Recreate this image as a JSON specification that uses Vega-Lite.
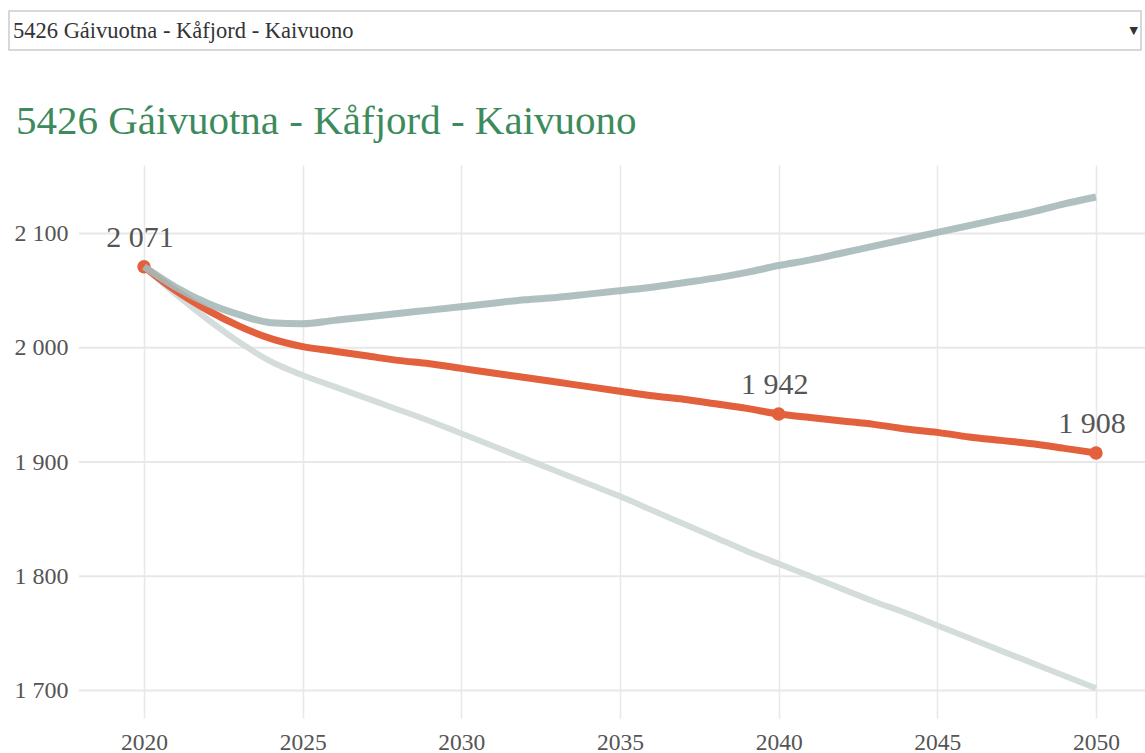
{
  "$schema": "https://vega.github.io/schema/vega-lite/v6.json",
  "background": "white",
  "padding": {"left": 8, "top": 10, "right": 0, "bottom": 0},
  "config": {
    "locale": {"number": {"decimal": ",", "thousands": " ", "grouping": [3], "currency": ["", ""]}},
    "font": "Liberation Serif",
    "view": {"stroke": null}
  },
  "spacing": 50,
  "vconcat": [
    {
      "width": 1132,
      "height": 39,
      "view": {"stroke": "#cccccc", "strokeWidth": 1.5, "fill": "white"},
      "data": {"values": [
        {"part": "label", "text": "5426 Gáivuotna - Kåfjord - Kaivuono"},
        {"part": "arrow", "text": "▼"}
      ]},
      "encoding": {
        "x": {"field": "part", "type": "nominal", "scale": {"type": "point", "domain": ["label", "arrow"], "padding": 0}, "axis": null},
        "text": {"field": "text"}
      },
      "layer": [
        {"transform": [{"filter": "datum.part === 'label'"}],
         "mark": {"type": "text", "align": "left", "dx": 4, "fontSize": 22.5, "color": "#333333", "font": "Liberation Serif"}},
        {"transform": [{"filter": "datum.part === 'arrow'"}],
         "mark": {"type": "text", "align": "right", "dx": -3, "fontSize": 11, "color": "#333333", "font": "DejaVu Sans"}}
      ]
    },
    {
      "width": 1137,
      "height": 553,
      "title": {"text": "5426 Gáivuotna - Kåfjord - Kaivuono", "anchor": "start", "frame": "group", "dx": 7, "offset": 22, "fontSize": 41, "font": "Liberation Serif", "fontWeight": "normal", "color": "#3d8b5c"},
      "layer": [
        {
          "data": {"values": [{"tick": 1700}, {"tick": 1800}, {"tick": 1900}, {"tick": 2000}, {"tick": 2100}]},
          "mark": {"type": "rule", "color": "#e8e8e8", "strokeWidth": 2},
          "encoding": {
            "x": {"datum": 2017.95, "type": "quantitative",
                  "scale": {"domain": [2015.746, 2051.576], "nice": false, "zero": false},
                  "axis": {"values": [2020, 2025, 2030, 2035, 2040, 2045, 2050], "format": "d", "title": null,
                           "labelFontSize": 23.5, "labelFont": "Liberation Serif", "labelColor": "#555555",
                           "ticks": false, "tickSize": 0, "domain": false, "labelPadding": 12, "labelFlush": false,
                           "grid": true, "gridColor": "#e8e8e8", "gridWidth": 1.5}},
            "x2": {"datum": 2051.576},
            "y": {"field": "tick", "type": "quantitative",
                  "scale": {"domain": [1676, 2160], "nice": false, "zero": false},
                  "axis": {"values": [1700, 1800, 1900, 2000, 2100], "format": ",d", "title": null,
                           "labelFontSize": 24, "labelFont": "Liberation Serif", "labelColor": "#555555",
                           "labelAlign": "right", "labelPadding": -59, "minExtent": 0,
                           "ticks": false, "tickSize": 0, "domain": false, "grid": false}}
          }
        },
        {
          "data": {"values": [
            {"year": 2020, "Hovedalternativ": 2071, "Høy": 2071, "Lav": 2071},
            {"year": 2021, "Hovedalternativ": 2050, "Høy": 2053, "Lav": 2047},
            {"year": 2022, "Hovedalternativ": 2033, "Høy": 2039, "Lav": 2025},
            {"year": 2023, "Hovedalternativ": 2019, "Høy": 2029, "Lav": 2005},
            {"year": 2024, "Hovedalternativ": 2008, "Høy": 2022, "Lav": 1988},
            {"year": 2025, "Hovedalternativ": 2001, "Høy": 2021, "Lav": 1976},
            {"year": 2026, "Hovedalternativ": 1997, "Høy": 2024, "Lav": 1966},
            {"year": 2027, "Hovedalternativ": 1993, "Høy": 2027, "Lav": 1956},
            {"year": 2028, "Hovedalternativ": 1989, "Høy": 2030, "Lav": 1946},
            {"year": 2029, "Hovedalternativ": 1986, "Høy": 2033, "Lav": 1936},
            {"year": 2030, "Hovedalternativ": 1982, "Høy": 2036, "Lav": 1925},
            {"year": 2031, "Hovedalternativ": 1978, "Høy": 2039, "Lav": 1914},
            {"year": 2032, "Hovedalternativ": 1974, "Høy": 2042, "Lav": 1903},
            {"year": 2033, "Hovedalternativ": 1970, "Høy": 2044, "Lav": 1892},
            {"year": 2034, "Hovedalternativ": 1966, "Høy": 2047, "Lav": 1881},
            {"year": 2035, "Hovedalternativ": 1962, "Høy": 2050, "Lav": 1870},
            {"year": 2036, "Hovedalternativ": 1958, "Høy": 2053, "Lav": 1858},
            {"year": 2037, "Hovedalternativ": 1955, "Høy": 2057, "Lav": 1846},
            {"year": 2038, "Hovedalternativ": 1951, "Høy": 2061, "Lav": 1834},
            {"year": 2039, "Hovedalternativ": 1947, "Høy": 2066, "Lav": 1822},
            {"year": 2040, "Hovedalternativ": 1942, "Høy": 2072, "Lav": 1811},
            {"year": 2041, "Hovedalternativ": 1939, "Høy": 2077, "Lav": 1800},
            {"year": 2042, "Hovedalternativ": 1936, "Høy": 2083, "Lav": 1789},
            {"year": 2043, "Hovedalternativ": 1933, "Høy": 2089, "Lav": 1778},
            {"year": 2044, "Hovedalternativ": 1929, "Høy": 2095, "Lav": 1768},
            {"year": 2045, "Hovedalternativ": 1926, "Høy": 2101, "Lav": 1757},
            {"year": 2046, "Hovedalternativ": 1922, "Høy": 2107, "Lav": 1746},
            {"year": 2047, "Hovedalternativ": 1919, "Høy": 2113, "Lav": 1735},
            {"year": 2048, "Hovedalternativ": 1916, "Høy": 2119, "Lav": 1724},
            {"year": 2049, "Hovedalternativ": 1912, "Høy": 2126, "Lav": 1713},
            {"year": 2050, "Hovedalternativ": 1908, "Høy": 2132, "Lav": 1702}
          ]},
          "transform": [{"fold": ["Hovedalternativ", "Høy", "Lav"], "as": ["series", "value"]}],
          "encoding": {
            "x": {"field": "year", "type": "quantitative",
                  "scale": {"domain": [2015.746, 2051.576], "nice": false, "zero": false},
                  "axis": {"values": [2020, 2025, 2030, 2035, 2040, 2045, 2050], "format": "d", "title": null,
                           "labelFontSize": 23.5, "labelFont": "Liberation Serif", "labelColor": "#555555",
                           "ticks": false, "tickSize": 0, "domain": false, "labelPadding": 12, "labelFlush": false,
                           "grid": true, "gridColor": "#e8e8e8", "gridWidth": 1.5}},
            "y": {"field": "value", "type": "quantitative",
                  "scale": {"domain": [1676, 2160], "nice": false, "zero": false},
                  "axis": {"values": [1700, 1800, 1900, 2000, 2100], "format": ",d", "title": null,
                           "labelFontSize": 24, "labelFont": "Liberation Serif", "labelColor": "#555555",
                           "labelAlign": "right", "labelPadding": -59, "minExtent": 0,
                           "ticks": false, "tickSize": 0, "domain": false, "grid": false}}
          },
          "layer": [
            {"transform": [{"filter": "datum.series === 'Lav'"}],
             "mark": {"type": "line", "color": "#d4dcdc", "strokeWidth": 6, "interpolate": "monotone"}},
            {"transform": [{"filter": "datum.series === 'Hovedalternativ'"}],
             "mark": {"type": "line", "color": "#e2603b", "strokeWidth": 7, "interpolate": "monotone"}},
            {"transform": [{"filter": "datum.series === 'Hovedalternativ' && (datum.year === 2020 || datum.year === 2040 || datum.year === 2050)"}],
             "mark": {"type": "point", "filled": true, "size": 180, "color": "#e2603b", "opacity": 1}},
            {"transform": [{"filter": "datum.series === 'Høy'"}],
             "mark": {"type": "line", "color": "#a7b9b9", "strokeWidth": 7, "interpolate": "monotone", "opacity": 0.9}},
            {"transform": [{"filter": "datum.series === 'Hovedalternativ' && (datum.year === 2020 || datum.year === 2040 || datum.year === 2050)"}],
             "mark": {"type": "text", "dy": -29, "dx": -4, "fontSize": 30, "color": "#555555", "font": "Liberation Serif"},
             "encoding": {"text": {"field": "value", "type": "quantitative", "format": ",d"}}}
          ]
        }
      ]
    }
  ]
}
